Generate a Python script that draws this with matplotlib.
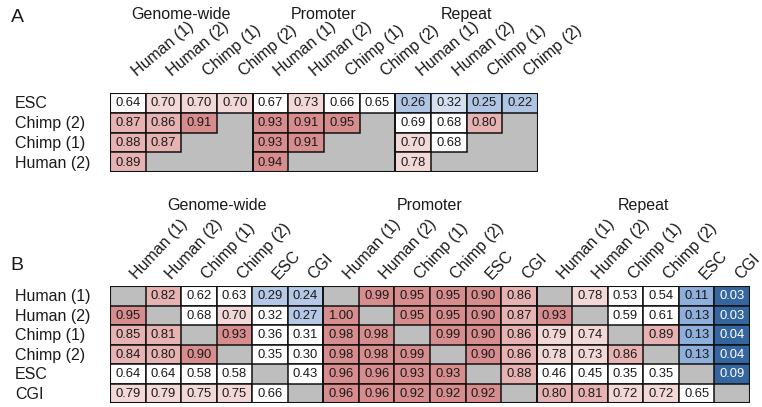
import numpy as np
import matplotlib
matplotlib.use("Agg")
import matplotlib.pyplot as plt
from matplotlib.patches import Rectangle
from matplotlib import transforms

plt.rcParams['font.family'] = ['Liberation Sans', 'DejaVu Sans']

# ---------------- data ----------------
groups = ["Genome-wide", "Promoter", "Repeat"]

a_rows = ["ESC", "Chimp (2)", "Chimp (1)", "Human (2)"]
a_cols = ["Human (1)", "Human (2)", "Chimp (1)", "Chimp (2)"]
N = np.nan
a_genome = [[0.64, 0.70, 0.70, 0.70],
            [0.87, 0.86, 0.91, N],
            [0.88, 0.87, N, N],
            [0.89, N, N, N]]
a_promoter = [[0.67, 0.73, 0.66, 0.65],
              [0.93, 0.91, 0.95, N],
              [0.93, 0.91, N, N],
              [0.94, N, N, N]]
a_repeat = [[0.26, 0.32, 0.25, 0.22],
            [0.69, 0.68, 0.80, N],
            [0.70, 0.68, N, N],
            [0.78, N, N, N]]

b_rows = ["Human (1)", "Human (2)", "Chimp (1)", "Chimp (2)", "ESC", "CGI"]
b_cols = ["Human (1)", "Human (2)", "Chimp (1)", "Chimp (2)", "ESC", "CGI"]
b_genome = [[N, 0.82, 0.62, 0.63, 0.29, 0.24],
            [0.95, N, 0.68, 0.70, 0.32, 0.27],
            [0.85, 0.81, N, 0.93, 0.36, 0.31],
            [0.84, 0.80, 0.90, N, 0.35, 0.30],
            [0.64, 0.64, 0.58, 0.58, N, 0.43],
            [0.79, 0.79, 0.75, 0.75, 0.66, N]]
b_promoter = [[N, 0.99, 0.95, 0.95, 0.90, 0.86],
              [1.00, N, 0.95, 0.95, 0.90, 0.87],
              [0.98, 0.98, N, 0.99, 0.90, 0.86],
              [0.98, 0.98, 0.99, N, 0.90, 0.86],
              [0.96, 0.96, 0.93, 0.93, N, 0.88],
              [0.96, 0.96, 0.92, 0.92, 0.92, N]]
b_repeat = [[N, 0.78, 0.53, 0.54, 0.11, 0.03],
            [0.93, N, 0.59, 0.61, 0.13, 0.03],
            [0.79, 0.74, N, 0.89, 0.13, 0.04],
            [0.78, 0.73, 0.86, N, 0.13, 0.04],
            [0.46, 0.45, 0.35, 0.35, N, 0.09],
            [0.80, 0.81, 0.72, 0.72, 0.65, N]]

# colour bins (upper bound, colour)
bins_a = [(0.30, "#b0c5e4"), (0.35, "#d4e0f0"), (0.70, "#ffffff"),
          (0.80, "#f3d8d8"), (0.90, "#e6b2b2"), (1.01, "#d78c8e")]
bins_b = [(0.10, "#3566a0"), (0.20, "#8eaedb"), (0.30, "#b5c8e6"),
          (0.70, "#ffffff"), (0.80, "#f3d8d8"), (0.90, "#e6b2b2"), (1.01, "#d78c8e")]
GRAY = "#bebebe"


def color_for(v, bins):
    for ub, c in bins:
        if v < ub - 1e-9:
            return c
    return bins[-1][1]


W, H = 762, 407
fig = plt.figure(figsize=(W / 100, H / 100), dpi=100)


def px_axes(left, top, right, bottom):
    return fig.add_axes([left / W, 1 - bottom / H, (right - left) / W, (bottom - top) / H])


def draw_panel(ax, mats, rows, cols, bins, letter, letter_y, title_y,
               lab_dx, lab_dy, lab_rot):
    data = np.hstack([np.array(m, dtype=float) for m in mats])
    nr, nc = data.shape
    ng = len(mats)
    gw = nc // ng
    ax.set_xlim(0, nc)
    ax.set_ylim(nr, 0)
    ax.axis('off')
    ax.add_patch(Rectangle((0, 0), nc, nr, facecolor=GRAY, edgecolor='none', zorder=0))
    for i in range(nr):
        for j in range(nc):
            v = data[i, j]
            if np.isnan(v):
                continue
            c = color_for(v, bins)
            ax.add_patch(Rectangle((j, i), 1, 1, facecolor=c, edgecolor='#111111',
                                   linewidth=1.1, zorder=1))
            tc = 'white' if c == "#3566a0" else '#1a1a1a'
            ax.text(j + 0.5, i + 0.52, f"{v:.2f}", ha='center', va='center',
                    fontsize=9.4, color=tc, zorder=3)
    # group separators and outer border
    for g in range(1, ng):
        ax.plot([g * gw, g * gw], [0, nr], color='#111111', lw=1.3, zorder=2,
                solid_capstyle='butt')
    ax.add_patch(Rectangle((0, 0), nc, nr, facecolor='none', edgecolor='#111111',
                           linewidth=1.5, zorder=2))
    # row labels
    tr = transforms.blended_transform_factory(fig.transFigure, ax.transData)
    for i, r in enumerate(rows):
        ax.text(15 / W, i + 0.55, r, transform=tr, ha='left', va='center',
                fontsize=11.5, color='#1a1a1a')
    # column labels
    for g in range(ng):
        for k, cname in enumerate(cols):
            j = g * gw + k
            ax.text(j + lab_dx, lab_dy, cname, rotation=lab_rot, rotation_mode='anchor',
                    ha='left', va='baseline', fontsize=11.5, color='#1a1a1a',
                    clip_on=False)
        ax.text(g * gw + gw / 2, title_y, groups[g], ha='center', va='center',
                fontsize=11.5, color='#1a1a1a', clip_on=False)
    fig.text(17 / W, 1 - letter_y / H, letter, ha='center', va='center', fontsize=14,
             color='#1a1a1a')


axA = px_axes(110, 93, 538, 172)
draw_panel(axA, [a_genome, a_promoter, a_repeat], a_rows, a_cols, bins_a,
           "A", 18, -3.95, 0.75, -0.8, 40)

axB = px_axes(110, 286, 750, 403)
draw_panel(axB, [b_genome, b_promoter, b_repeat], b_rows, b_cols, bins_b,
           "B", 265, -4.15, 0.75, -0.3, 47)

fig.savefig("out.png", dpi=100, facecolor='white')
